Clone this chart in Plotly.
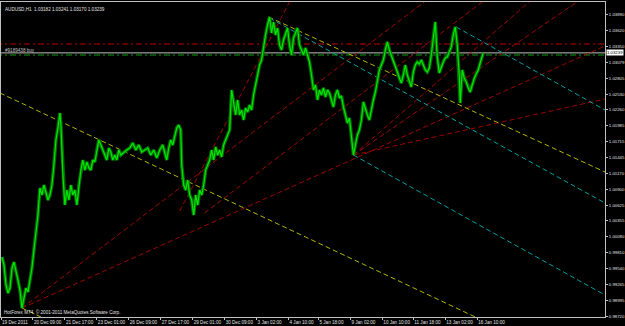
import plotly.graph_objects as go

# ---------------- data ----------------
bar_index = [1,3,5,7,9,11,13,15,17,19,21,23,25,27,29,31,33,35,37,39,41,43,45,47,49,51,53,55,57,59,
             60,61,62,64,66,68,70,72,74,76,78,80,82,84,86,88,90,92,94,96,98,100,102,104,106,108,110,112,114,116,
             118,120,123,126,129,132,135,138,141,144,147,150,153,156,159,162,164,166,168,170,172,174,176,178,180,181,183,185,187,189,
             191,193,195,197,199,201,203,205,207,209,211,213,215,217,219,221,223,225,227,229,231,233,235,237,239,241,243,245,247,249,
             251,253,255,257,259,261,263,265,267,269,271,273,275,277,279,281,283,285,287,289,291,293,295,297,299,301,303,305,307,309,
             311,313,315,317,319,321,323,325,327,329,331,333,335,337,339,341,343,345,347,349,351,353,355,357,359,361,363,365,367,369,
             371,373,375,377,379,381,383,385,387,389,391,393,395,397,399,401,403,405,407,409,411,413,415,417,419,421,423,425,427,429,
             431,433,435,436,437,439,441,443,445,447,449,451,453,455,457,458,459,460,462,464,466,468,470,472,474,476,478,480,482,483]
close_price = [0.99733,0.99595,0.99252,0.99114,0.99200,0.99544,0.99647,0.99509,0.99338,0.99166,0.98857,0.99028,0.99200,0.99131,0.99338,
               0.99544,0.99853,1.00111,1.00454,1.00918,1.00798,1.00970,1.00849,1.00712,1.00798,1.00970,1.01313,1.01743,1.01949,1.02207,
               1.02000,1.01571,1.01141,1.00626,1.00884,1.00712,1.00970,1.00798,1.00884,1.00626,1.00970,1.01227,1.01399,1.01227,1.01365,
               1.01262,1.01227,1.01399,1.01365,1.01571,1.01743,1.01657,1.01571,1.01485,1.01399,1.01605,1.01537,1.01399,1.01485,1.01399,
               1.01571,1.01485,1.01537,1.01571,1.01605,1.01691,1.01571,1.01657,1.01537,1.01571,1.01605,1.01485,1.01571,1.01434,1.01571,
               1.01657,1.01519,1.01399,1.01605,1.01743,1.01657,1.01829,1.01949,1.02000,1.01915,1.01313,1.00970,1.00884,1.01056,1.00798,
               1.00712,1.00454,1.00798,1.00626,1.00884,1.00798,1.00970,1.01227,1.01313,1.01399,1.01571,1.01399,1.01623,1.01485,1.01571,
               1.01451,1.01657,1.01743,1.01829,1.01915,1.02602,1.02344,1.02172,1.02430,1.02172,1.02258,1.02086,1.02293,1.02224,1.02344,
               1.02258,1.02516,1.02688,1.02859,1.03031,1.03117,1.03375,1.03547,1.03718,1.03856,1.03581,1.03770,1.03547,1.03667,1.03375,
               1.03289,1.03461,1.03547,1.03667,1.03375,1.03203,1.03495,1.03598,1.03667,1.03375,1.03289,1.03203,1.03323,1.03203,1.03083,
               1.02859,1.02602,1.02688,1.02430,1.02602,1.02516,1.02636,1.02482,1.02602,1.02550,1.02430,1.02310,1.02516,1.02602,1.02464,
               1.02499,1.02310,1.02172,1.02035,1.02121,1.01743,1.01485,1.01657,1.01829,1.01915,1.02086,1.02396,1.02258,1.02172,1.02086,
               1.02293,1.02430,1.02567,1.02774,1.02945,1.03031,1.03117,1.03289,1.03426,1.03289,1.03203,1.03083,1.02997,1.02911,1.02808,
               1.02722,1.02859,1.03031,1.02859,1.02739,1.02653,1.02911,1.03031,1.03083,1.03048,1.03117,1.03014,1.02945,1.02911,1.02980,
               1.03203,1.03547,1.03770,1.03461,1.03169,1.02894,1.02997,1.03083,1.03152,1.03169,1.03255,1.03341,1.03547,1.03684,1.03375,
               1.03117,1.02859,1.02378,1.02945,1.02808,1.02739,1.02636,1.02567,1.02688,1.02808,1.02877,1.02945,1.03066,1.03186,1.03239]

tick_bars = [0, 32, 64, 96, 128, 160, 192, 224, 256, 288, 318, 350, 382, 413, 445, 477]
tick_labels = ["19 Dec 2011", "20 Dec 09:00", "21 Dec 17:00", "23 Dec 01:00", "26 Dec 09:00",
               "27 Dec 17:00", "29 Dec 01:00", "30 Dec 09:00", "3 Jan 02:00", "4 Jan 10:00",
               "5 Jan 18:00", "9 Jan 02:00", "10 Jan 10:00", "11 Jan 18:00", "13 Jan 02:00", "16 Jan 10:00"]
price_ticks = [1.03890, 1.03620, 1.03350, 1.03079, 1.02805, 1.02530, 1.02260, 1.01985, 1.01715, 1.01445,
               1.01170, 1.00900, 1.00625, 1.00355, 1.00080, 0.99810, 0.99540, 0.99265, 0.98995, 0.98720]

# horizontal levels
order_open = 1.03203      # "#9189438 buy"
bid_price = 1.03239
level_red = 1.03392

# trend lines: (bar1, price1, bar2, price2)
yellow_lines = [(-1, 1.02550, 471, 0.98736),
                (268, 1.03856, 605, 1.01193),
                (21, 0.98857, 60, 0.98542)]
cyan_lines = [(269, 1.03839, 605, 1.00660),
              (353, 1.01485, 605, 0.99080),
              (456, 1.03684, 605, 1.02258)]
red_lines = [(21, 0.98857, 424, 1.04114),
             (21, 0.98857, 605, 1.03358),
             (179, 1.00523, 289, 1.04114),
             (204, 1.00489, 482, 1.04114),
             (353, 1.01485, 529, 1.04114),
             (353, 1.01485, 577, 1.04114),
             (353, 1.01485, 605, 1.02447)]

X_RANGE = [0, 605]
Y_RANGE = [0.98703, 1.04113]

fig = go.Figure()


def ray(b1, p1, b2, p2):
    slope = (p2 - p1) / (b2 - b1)
    xa, xb = b1, X_RANGE[1] + 5
    return [xa, xb], [p1, p1 + slope * (xb - b1)]


def add_lines(lines, color, dash):
    for (b1, p1, b2, p2) in lines:
        xs, ys = ray(b1, p1, b2, p2)
        fig.add_trace(go.Scatter(x=xs, y=ys, mode="lines", hoverinfo="skip",
                                 line=dict(color=color, width=1, dash=dash), showlegend=False))


# horizontal lines
for lvl, col, dash in [(level_red, "#c00000", "6px,3px,2px,3px"),
                       (order_open, "#00a000", "6px,3px,2px,3px"),
                       (bid_price, "#c0c0c0", "solid")]:
    fig.add_trace(go.Scatter(x=[X_RANGE[0] - 5, X_RANGE[1] + 5], y=[lvl, lvl], mode="lines",
                             hoverinfo="skip", line=dict(color=col, width=1, dash=dash), showlegend=False))

add_lines(red_lines, "#a00000", "5px,3px")
add_lines(yellow_lines, "#b4b400", "5px,3px")
add_lines(cyan_lines, "#00a0a0", "5px,3px")

# price bars drawn as a textured band: dark body + bright core
fig.add_trace(go.Scatter(x=bar_index, y=close_price, mode="lines", hoverinfo="skip",
                         line=dict(color="#006e00", width=3.5), showlegend=False))
fig.add_trace(go.Scatter(x=bar_index, y=close_price, mode="lines", hoverinfo="skip",
                         line=dict(color="#00e600", width=1.2), showlegend=False))

FONT = "Liberation Sans, Arial, sans-serif"
font_small = dict(family=FONT, size=4.6, color="#e0e0e0")
font_y = dict(family=FONT, size=4.3, color="#e0e0e0")

fig.update_layout(
    width=625, height=326,
    margin=dict(l=1, r=20, t=2, b=9),
    paper_bgcolor="#000000", plot_bgcolor="#000000",
    xaxis=dict(range=X_RANGE, tickvals=tick_bars, ticktext=tick_labels, ticks="outside",
               ticklen=2, tickcolor="#c0c0c0", tickfont=font_small, showgrid=False, zeroline=False,
               showline=True, linecolor="#c0c0c0", mirror=True, ticklabelposition="outside right",
               tickangle=0, automargin=False, fixedrange=True),
    yaxis=dict(range=Y_RANGE, tickvals=price_ticks, ticktext=[f"{v:.5f}" for v in price_ticks],
               side="right", ticks="outside", ticklen=2, tickcolor="#c0c0c0", tickfont=font_y,
               showgrid=False, zeroline=False, showline=True, linecolor="#c0c0c0", mirror=True,
               tickangle=0, automargin=False, fixedrange=True),
    showlegend=False,
)

fig.add_annotation(x=0, y=1, xref="paper", yref="paper", xanchor="left", yanchor="top",
                   xshift=2, yshift=-3, showarrow=False,
                   text="AUDUSD,H1  1.03182 1.03241 1.03170 1.03239", font=font_small)
fig.add_annotation(x=0, y=order_open, xref="paper", yref="y", xanchor="left", yanchor="bottom",
                   xshift=2, yshift=0, showarrow=False, text="#9189438 buy",
                   font=dict(family=FONT, size=4.6, color="#c0c0c0"))
fig.add_annotation(x=0, y=0, xref="paper", yref="paper", xanchor="left", yanchor="bottom",
                   xshift=1, yshift=0, showarrow=False,
                   text="HotForex MT4, © 2001-2011 MetaQuotes Software Corp.", font=font_small)
fig.add_annotation(x=1, y=bid_price, xref="paper", yref="y", xanchor="left", yanchor="middle",
                   xshift=1, showarrow=False, text=f"{bid_price:.5f}", bgcolor="#ffffff",
                   borderpad=0, font=dict(family=FONT, size=4.3, color="#000000"))

fig.write_html("out.html")
